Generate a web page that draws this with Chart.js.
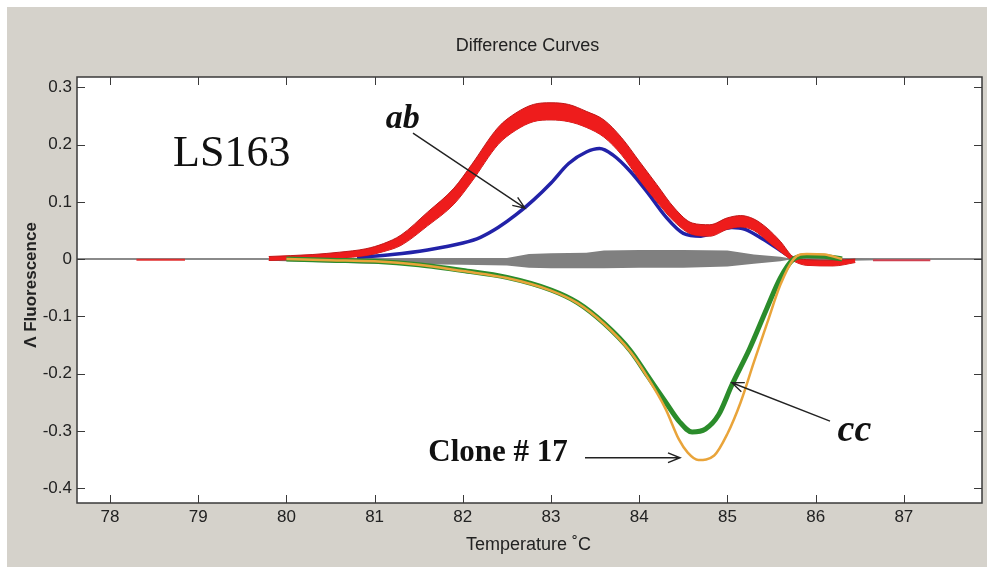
<!DOCTYPE html>
<html>
<head>
<meta charset="utf-8">
<script src="https://cdn.jsdelivr.net/npm/chart.js@4.4.1/dist/chart.umd.min.js"></script>
<style>
  html, body { margin: 0; padding: 0; background: #ffffff; }
  #c { display: block; }
</style>
</head>
<body>
<canvas id="c" width="987" height="567"></canvas>
<script>
// ---------- DATA ----------
const xTickValues = [78, 79, 80, 81, 82, 83, 84, 85, 86, 87];
const yTickValues = [-0.4, -0.3, -0.2, -0.1, 0, 0.1, 0.2, 0.3];

// red band (many overlapping replicate curves): upper and lower edge
const redX     = [79.8, 80.3, 80.6, 80.9, 81.1, 81.3, 81.6, 81.9, 82.1, 82.4, 82.6, 82.8, 83.0, 83.2, 83.4, 83.6, 83.8, 84.0, 84.2, 84.4, 84.6, 84.8, 85.0, 85.15, 85.3, 85.45, 85.6, 85.75, 85.9, 86.2, 86.45];
const redUpper = [0.0045, 0.008, 0.012, 0.018, 0.027, 0.042, 0.082, 0.124, 0.165, 0.23, 0.255, 0.27, 0.273, 0.27, 0.258, 0.243, 0.212, 0.171, 0.13, 0.089, 0.063, 0.06, 0.072, 0.076, 0.07, 0.054, 0.031, 0.0035, -0.001, -0.002, 0.0];
const redLower = [-0.0025, 0.0, 0.002, 0.006, 0.013, 0.024, 0.058, 0.096, 0.135, 0.2, 0.225, 0.24, 0.243, 0.24, 0.23, 0.213, 0.182, 0.139, 0.1, 0.065, 0.043, 0.04, 0.052, 0.056, 0.05, 0.032, 0.013, -0.0035, -0.011, -0.012, -0.006];

const redStray1X = [78.3, 78.85];
const redStray1Y = [-0.001, -0.001];
const redStray2X = [86.65, 87.3];
const redStray2Y = [-0.002, -0.002];

const blueX = [80.8, 81.2, 81.6, 82.0, 82.2, 82.4, 82.6, 82.8, 83.0, 83.2, 83.4, 83.55, 83.7, 83.9, 84.1, 84.3, 84.5, 84.7, 84.9, 85.05, 85.2, 85.4, 85.6, 85.75];
const blueY = [0.003, 0.008, 0.016, 0.028, 0.038, 0.055, 0.077, 0.103, 0.133, 0.167, 0.187, 0.193, 0.182, 0.153, 0.115, 0.074, 0.045, 0.04, 0.05, 0.055, 0.052, 0.035, 0.015, 0.0];

const grayX     = [79.8, 80.5, 81.0, 81.5, 82.0, 82.5, 82.75, 83.0, 83.4, 83.6, 84.0, 84.5, 85.0, 85.3, 85.6, 85.75, 86.0, 86.4, 86.7];
const grayUpper = [0.0, 0.0, 0.0, 0.001, 0.002, 0.002, 0.009, 0.01, 0.011, 0.015, 0.016, 0.016, 0.015, 0.008, 0.004, 0.0, 0.002, 0.002, 0.0];
const grayLower = [-0.003, -0.006, -0.008, -0.009, -0.01, -0.011, -0.015, -0.016, -0.016, -0.016, -0.015, -0.015, -0.013, -0.008, -0.004, 0.0, -0.003, -0.003, -0.002];

const greenX = [80.0, 80.5, 81.0, 81.5, 82.0, 82.5, 83.0, 83.3, 83.6, 83.9, 84.1, 84.3, 84.45, 84.6, 84.75, 84.9, 85.05, 85.25, 85.45, 85.6, 85.75, 85.9, 86.1, 86.3];
const greenY = [0.0, -0.002, -0.004, -0.01, -0.02, -0.032, -0.054, -0.076, -0.112, -0.16, -0.205, -0.25, -0.283, -0.302, -0.297, -0.272, -0.22, -0.157, -0.085, -0.033, 0.0, 0.006, 0.005, 0.0];

const yellowX = [80.0, 80.5, 81.0, 81.5, 82.0, 82.5, 83.0, 83.3, 83.6, 83.9, 84.1, 84.3, 84.45, 84.55, 84.67, 84.85, 85.0, 85.15, 85.3, 85.45, 85.6, 85.75, 85.9, 86.1, 86.3];
const yellowY = [0.0, -0.002, -0.004, -0.01, -0.021, -0.033, -0.055, -0.077, -0.113, -0.162, -0.208, -0.262, -0.315, -0.338, -0.351, -0.343, -0.305, -0.25, -0.18, -0.112, -0.045, 0.0, 0.009, 0.008, 0.0];

// annotation texts
const labelTexts = ["LS163", "ab", "cc", "Clone # 17"];

// ---------- helpers ----------
const pts = (xs, ys) => xs.map((x, i) => ({ x: x, y: ys[i] }));

const X_MIN = 77.626, X_MAX = 87.886;
const Y_MIN = -0.426, Y_MAX = 0.318;
const SANS = '"Liberation Sans", Arial, sans-serif';
const SERIF = '"Liberation Serif", "Times New Roman", serif';

const bgPlugin = {
  id: 'bg',
  beforeDraw(chart) {
    const ctx = chart.ctx, a = chart.chartArea;
    ctx.save();
    ctx.fillStyle = '#ffffff';
    ctx.fillRect(0, 0, chart.width, chart.height);
    ctx.fillStyle = '#d5d2cb';
    ctx.fillRect(7, 7, chart.width - 7, chart.height - 7);
    ctx.fillStyle = '#ffffff';
    ctx.fillRect(a.left, a.top, a.right - a.left, a.bottom - a.top);
    ctx.fillStyle = '#222222';
    ctx.textAlign = 'center';
    ctx.textBaseline = 'middle';
    ctx.font = '18px ' + SANS;
    ctx.fillText('Difference Curves', (a.left + a.right) / 2 - 2, 46);
    ctx.font = '18px ' + SANS;
    ctx.fillText('Temperature \u02DAC', (a.left + a.right) / 2 - 1, 545);
    ctx.save();
    ctx.translate(31, 285);
    ctx.rotate(-Math.PI / 2);
    ctx.font = 'bold 17px ' + SANS;
    ctx.fillText('\u039B Fluorescence', 0, 0);
    ctx.restore();
    ctx.restore();
  },
  beforeDatasetsDraw(chart) {
    const ctx = chart.ctx, a = chart.chartArea;
    const y0 = chart.scales.y.getPixelForValue(0);
    ctx.save();
    ctx.strokeStyle = '#8a8a8a';
    ctx.lineWidth = 2;
    ctx.beginPath();
    ctx.moveTo(a.left, y0);
    ctx.lineTo(a.right, y0);
    ctx.stroke();
    ctx.restore();
  },
  afterDatasetsDraw(chart) {
    const ctx = chart.ctx, a = chart.chartArea;
    const xs = chart.scales.x, ys = chart.scales.y;
    ctx.save();
    ctx.strokeStyle = '#3a3a3a';
    ctx.lineWidth = 1.5;
    ctx.strokeRect(a.left, a.top, a.right - a.left, a.bottom - a.top);
    ctx.lineWidth = 1;
    ctx.beginPath();
    xTickValues.forEach(v => {
      const px = Math.round(xs.getPixelForValue(v)) + 0.5;
      ctx.moveTo(px, a.bottom); ctx.lineTo(px, a.bottom - 8);
      ctx.moveTo(px, a.top); ctx.lineTo(px, a.top + 8);
    });
    yTickValues.forEach(v => {
      const py = Math.round(ys.getPixelForValue(v)) + 0.5;
      ctx.moveTo(a.left, py); ctx.lineTo(a.left + 8, py);
      ctx.moveTo(a.right, py); ctx.lineTo(a.right - 8, py);
    });
    ctx.stroke();

    const P = (x, y) => [xs.getPixelForValue(x), ys.getPixelForValue(y)];
    ctx.fillStyle = '#111111';
    ctx.textAlign = 'center';
    ctx.textBaseline = 'middle';
    let p = P(79.38, 0.183);
    ctx.font = '44px ' + SERIF;
    ctx.fillText(labelTexts[0], p[0], p[1]);
    p = P(81.32, 0.245);
    ctx.font = 'italic bold 34px ' + SERIF;
    ctx.fillText(labelTexts[1], p[0], p[1]);
    p = P(86.44, -0.3);
    ctx.font = 'italic bold 38px ' + SERIF;
    ctx.fillText(labelTexts[2], p[0], p[1]);
    p = P(82.4, -0.339);
    ctx.font = 'bold 31px ' + SERIF;
    ctx.fillText(labelTexts[3], p[0], p[1]);

    const arrow = (x1, y1, x2, y2) => {
      const a1 = P(x1, y1), a2 = P(x2, y2);
      const ang = Math.atan2(a2[1] - a1[1], a2[0] - a1[0]);
      const hl = 13, ha = 0.38;
      ctx.strokeStyle = '#222222';
      ctx.lineWidth = 1.4;
      ctx.beginPath();
      ctx.moveTo(a1[0], a1[1]); ctx.lineTo(a2[0], a2[1]);
      ctx.moveTo(a2[0] - hl * Math.cos(ang - ha), a2[1] - hl * Math.sin(ang - ha));
      ctx.lineTo(a2[0], a2[1]);
      ctx.lineTo(a2[0] - hl * Math.cos(ang + ha), a2[1] - hl * Math.sin(ang + ha));
      ctx.stroke();
    };
    arrow(81.435, 0.22, 82.705, 0.089);
    arrow(86.163, -0.283, 85.05, -0.216);
    arrow(83.385, -0.347, 84.463, -0.347);
    ctx.restore();
  }
};

const lineDs = (data, color, width, extra) => Object.assign({
  data: data,
  borderColor: color,
  borderWidth: width,
  pointRadius: 0,
  fill: false,
  tension: 0.4,
  cubicInterpolationMode: 'monotone',
  borderCapStyle: 'butt',
  borderJoinStyle: 'round'
}, extra || {});

new Chart(document.getElementById('c'), {
  type: 'line',
  data: {
    datasets: [
      lineDs(pts(yellowX, yellowY), '#e9a43a', 2.5),
      lineDs(pts(greenX, greenY), '#2b8c2b', 5),
      lineDs(pts(redX, redUpper), '#c01818', 1, { fill: '+1', backgroundColor: '#ee1c1c' }),
      lineDs(pts(redX, redLower), '#c01818', 1),
      lineDs(pts(redStray1X, redStray1Y), '#e03030', 2),
      lineDs(pts(redStray2X, redStray2Y), '#d04050', 2),
      lineDs(pts(blueX, blueY), '#2222a8', 3.5),
      lineDs(pts(grayX, grayUpper), '#7f7f7f', 0, { fill: '+1', backgroundColor: '#808080', tension: 0, cubicInterpolationMode: 'default' }),
      lineDs(pts(grayX, grayLower), '#7f7f7f', 0, { tension: 0, cubicInterpolationMode: 'default' })
    ]
  },
  options: {
    responsive: false,
    animation: false,
    devicePixelRatio: 1,
    layout: { padding: { top: 77, left: 0, right: 5, bottom: 0 } },
    plugins: { legend: { display: false }, tooltip: { enabled: false }, title: { display: false } },
    scales: {
      x: {
        type: 'linear',
        min: X_MIN, max: X_MAX,
        grid: { display: false, drawTicks: false },
        border: { display: false },
        afterBuildTicks: s => { s.ticks = xTickValues.map(v => ({ value: v })); },
        afterFit: s => { s.height = 64; },
        ticks: {
          padding: 4,
          color: '#222222',
          font: { family: SANS, size: 17 },
          maxRotation: 0,
          autoSkip: false,
          callback: v => String(v)
        }
      },
      y: {
        type: 'linear',
        min: Y_MIN, max: Y_MAX,
        grid: { display: false, drawTicks: false },
        border: { display: false },
        afterBuildTicks: s => { s.ticks = yTickValues.map(v => ({ value: v })); },
        afterFit: s => { s.width = 77; },
        ticks: {
          padding: 5,
          color: '#222222',
          font: { family: SANS, size: 17 },
          autoSkip: false,
          callback: v => String(Math.round(v * 10) / 10)
        }
      }
    }
  },
  plugins: [bgPlugin]
});
</script>
</body>
</html>
